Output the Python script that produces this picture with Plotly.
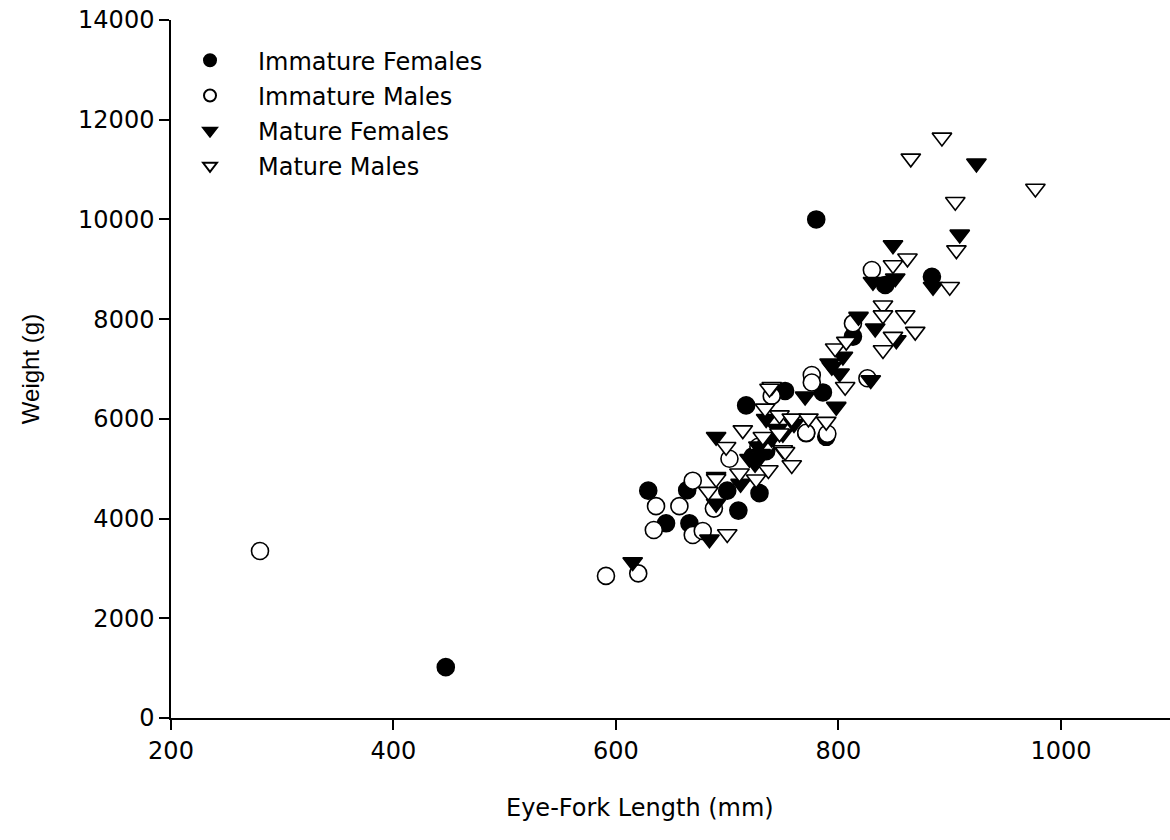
import plotly.graph_objects as go

# Immature Females (filled circles)
if_x = [447, 780, 629, 645, 664, 666, 700, 710, 729, 717, 752, 786, 771, 789, 813, 842, 884, 723, 735]
if_y = [1020, 10000, 4560, 3905, 4570, 3905, 4560, 4160, 4510, 6270, 6560, 6530, 5710, 5640, 7650, 8685, 8850, 5250, 5350]

# Immature Males (open circles)
im_x = [280, 591, 620, 636, 634, 657, 669, 669, 678, 688, 702, 728, 740, 776, 776, 813, 830, 826, 790, 771, 735]
im_y = [3350, 2850, 2900, 4250, 3770, 4250, 4760, 3670, 3750, 4200, 5200, 5440, 6460, 6880, 6730, 7915, 8985, 6815, 5700, 5720, 5500]

# Mature Females (filled down-triangles)
mf_x = [615, 684, 690, 690, 690, 770, 798, 792, 804, 818, 833, 831, 842, 851, 849, 852, 885, 909, 924,
        794, 801, 829, 720, 725, 730, 740, 745, 750, 735, 728, 760, 712]
mf_y = [3130, 3585, 4840, 4300, 5640, 6450, 6245, 7115, 7250, 8050, 7815, 8750, 8720, 8820, 9485, 7580, 8650, 9700, 11125,
        7045, 6915, 6780, 5200, 5100, 5300, 5600, 5800, 5700, 6000, 5450, 5900, 4700]

# Mature Males (open down-triangles)
mm_x = [977, 893, 865, 905, 906, 900, 862, 849, 840, 840, 860, 869, 849, 840, 797, 807, 806, 740, 734, 747, 758,
        773, 789, 714, 699, 732, 747, 750, 711, 726, 737, 758, 752, 683, 690, 700, 738]
mm_y = [10620, 11645, 11225, 10355, 9385, 8650, 9220, 9085, 8280, 8080, 8080, 7750, 7650, 7380, 7415, 7550, 6645,
        6645, 6210, 6075, 6010, 6010, 5945, 5775, 5440, 5640, 5710, 5375, 4910, 4790, 4975, 5075, 5340, 4540, 4800,
        3690, 6610]

x_ticks = [200, 400, 600, 800, 1000]
y_ticks = [0, 2000, 4000, 6000, 8000, 10000, 12000, 14000]

series = [
    ("Immature Females", if_x, if_y, "circle", "black"),
    ("Immature Males", im_x, im_y, "circle", "white"),
    ("Mature Females", mf_x, mf_y, "triangle-down", "black"),
    ("Mature Males", mm_x, mm_y, "triangle-down", "white"),
]

fig = go.Figure()
for i, (name, xs, ys, sym, fill) in enumerate(series):
    fig.add_trace(go.Scatter(
        x=xs, y=ys, mode="markers", name=name, legendgroup=f"g{i}",
        marker=dict(symbol=sym, size=17, color=fill, line=dict(color="black", width=1.6)),
    ))

font_family = "DejaVu Sans, Liberation Sans, Arial, sans-serif"
fig.update_layout(
    width=1170, height=840,
    margin=dict(l=171, r=0, t=20, b=122),
    paper_bgcolor="white", plot_bgcolor="white",
    font=dict(family=font_family, size=24, color="black"),
    showlegend=True,
    legend=dict(x=-0.009, y=0.974, xanchor="left", yanchor="top",
                bgcolor="rgba(0,0,0,0)", borderwidth=0,
                font=dict(size=24, family=font_family),
                tracegroupgap=1, itemwidth=86, itemsizing="constant"),
    xaxis=dict(range=[200, 1098], tickvals=x_ticks,
               showgrid=False, zeroline=False, showline=True, linecolor="black", linewidth=1.5,
               ticks="outside", ticklen=10, tickwidth=1.5, tickcolor="black",
               tickfont=dict(size=24), title=None),
    yaxis=dict(range=[0, 14000], tickvals=y_ticks, tickformat="d",
               showgrid=False, zeroline=False, showline=True, linecolor="black", linewidth=1.5,
               ticks="outside", ticklen=10, tickwidth=1.5, tickcolor="black",
               tickfont=dict(size=24), title=None),
    annotations=[
        dict(text="Eye-Fork Length (mm)", x=0.4695, y=-0.129, xref="paper", yref="paper",
             showarrow=False, font=dict(size=24), xanchor="center", yanchor="middle"),
        dict(text="Weight (g)", x=-0.141, y=0.5, xref="paper", yref="paper", textangle=-90,
             showarrow=False, font=dict(size=24, family="Liberation Sans, Arial, sans-serif"),
             xanchor="center", yanchor="middle"),
    ],
)

fig.write_html("out.html", config={"displayModeBar": False},
               post_script="document.body.style.margin='0px';")
